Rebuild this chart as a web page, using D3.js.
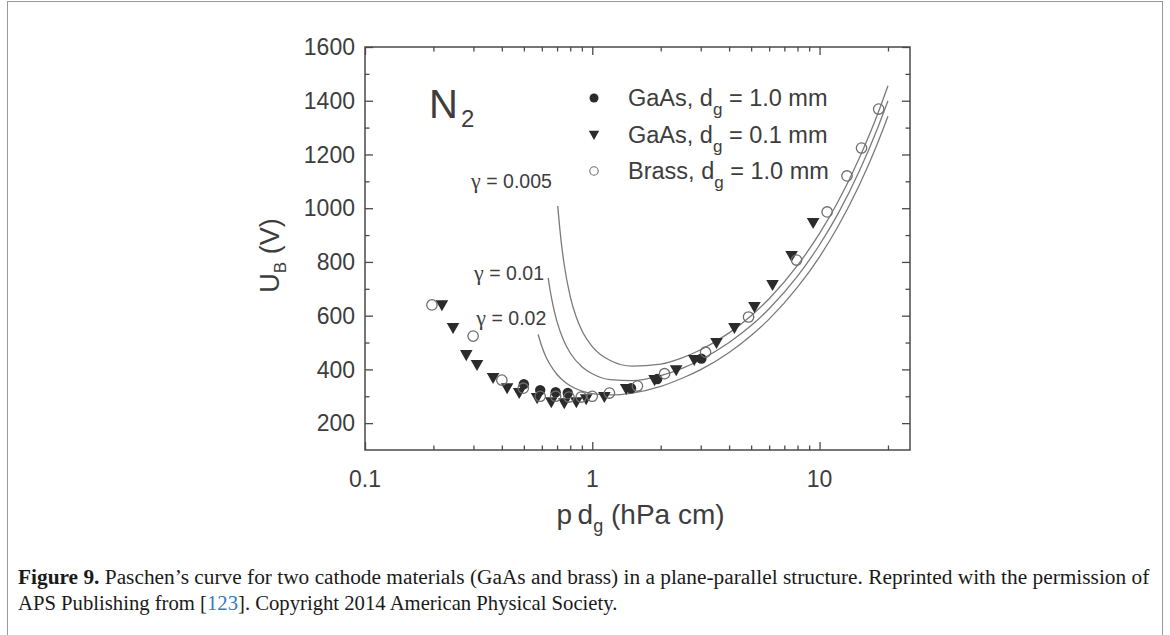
<!DOCTYPE html>
<html>
<head>
<meta charset="utf-8">
<script src="https://cdn.jsdelivr.net/npm/d3@7"></script>
<style>
  body { margin: 0; background: #fff; }
  svg { display: block; }
</style>
</head>
<body>
<svg id="chart" width="1170" height="635"></svg>
<script>
// Breakdown voltage measurements, N2
const gaas10PD = [0.50, 0.59, 0.69, 0.78, 1.48, 1.93, 3.02];
const gaas10U  = [345, 323, 315, 312, 330, 364, 440];

const gaas01PD = [0.218, 0.244, 0.279, 0.311, 0.366, 0.422, 0.477, 0.572, 0.66, 0.753, 0.851, 0.94, 1.13, 1.41, 1.88, 2.34, 2.81, 3.52, 4.22, 5.17, 6.21, 7.53, 9.37];
const gaas01U  = [639, 554, 453, 416, 368, 330, 312, 293, 278, 274, 278, 289, 297, 327, 360, 397, 435, 498, 554, 632, 714, 822, 945];

const brassPD = [0.197, 0.299, 0.40, 0.497, 0.59, 0.69, 0.79, 0.894, 1.0, 1.19, 1.58, 2.08, 3.15, 4.87, 7.92, 10.8, 13.2, 15.3, 18.2];
const brassU  = [640, 524, 360, 330, 300, 300, 297, 297, 300, 312, 338, 384, 464, 595, 807, 986, 1120, 1224, 1369];

// Paschen curves for three secondary emission coefficients
const curve005PD = [0.705, 0.71, 0.72, 0.73, 0.75, 0.8, 0.85, 0.9, 1.0, 1.2, 1.5, 2, 2.5, 3, 4, 5, 6, 8, 10, 12, 15, 18, 20];
const curve005U  = [1008, 977, 922, 874, 798, 671, 595, 545, 485, 433, 412, 420, 444, 473, 536, 600, 663, 787, 906, 1021, 1189, 1350, 1456];

const curve01PD = [0.64, 0.65, 0.67, 0.7, 0.75, 0.8, 0.9, 1.0, 1.2, 1.5, 2, 2.5, 3, 4, 5, 6, 8, 10, 12, 15, 18, 20];
const curve01U  = [741, 703, 643, 577, 506, 461, 410, 384, 362, 358, 377, 405, 436, 500, 563, 626, 747, 864, 976, 1140, 1298, 1400];

const curve02PD = [0.578, 0.6, 0.62, 0.65, 0.7, 0.75, 0.8, 0.9, 1.0, 1.2, 1.5, 2, 2.5, 3, 4, 5, 6, 8, 10, 12, 15, 18, 20];
const curve02U  = [530, 485, 454, 420, 381, 356, 339, 319, 310, 305, 312, 337, 368, 399, 463, 526, 587, 706, 819, 929, 1088, 1242, 1342];

const gammaLabels = ["0.005", "0.01", "0.02"];
const gammaLabelAt = [[0.293, 1075], [0.302, 733], [0.309, 565]];

const xMajorTicks = [0.1, 1, 10];
const xMinorTicks = [0.2, 0.3, 0.4, 0.5, 0.6, 0.7, 0.8, 0.9, 2, 3, 4, 5, 6, 7, 8, 9, 20];
const yMajorTicks = [200, 400, 600, 800, 1000, 1200, 1400, 1600];
const yMinorTicks = [300, 500, 700, 900, 1100, 1300, 1500];

const legendLabels = [["GaAs, d", "g", " = 1.0 mm"], ["GaAs, d", "g", " = 0.1 mm"], ["Brass, d", "g", " = 1.0 mm"]];

const svg = d3.select("#chart");
const SANS = "'Liberation Sans', Arial, Helvetica, sans-serif";
const SERIF = "'Liberation Serif', 'Times New Roman', serif";
const ink = "#3d3d3d";

// outer figure border
svg.append("rect").attr("x", 7.5).attr("y", 1.5).attr("width", 1155).attr("height", 700)
  .attr("fill", "none").attr("stroke", "#9a9a9a").attr("stroke-width", 1);

const plot = { left: 365, right: 910, top: 47, bottom: 450 };
const x = d3.scaleLog().domain([0.1, 25]).range([plot.left, plot.right]);
const y = d3.scaleLinear().domain([100, 1600]).range([plot.bottom, plot.top]);

const g = svg.append("g");

// ticks on all four sides, pointing inward
function tickAxis(axis, transform, values, size) {
  const a = g.append("g").attr("transform", transform)
    .call(axis.tickValues(values).tickSizeInner(-size).tickSizeOuter(0).tickFormat(""));
  a.select(".domain").remove();
  a.selectAll(".tick line").attr("stroke", "#4a4a4a").attr("stroke-width", 1.3);
  return a;
}
tickAxis(d3.axisBottom(x), `translate(0,${plot.bottom})`, xMajorTicks, 8);
tickAxis(d3.axisBottom(x), `translate(0,${plot.bottom})`, xMinorTicks, 4.5);
tickAxis(d3.axisTop(x), `translate(0,${plot.top})`, xMajorTicks, 8);
tickAxis(d3.axisTop(x), `translate(0,${plot.top})`, xMinorTicks, 4.5);
tickAxis(d3.axisLeft(y), `translate(${plot.left},0)`, yMajorTicks, 8);
tickAxis(d3.axisLeft(y), `translate(${plot.left},0)`, yMinorTicks, 4.5);
tickAxis(d3.axisRight(y), `translate(${plot.right},0)`, yMajorTicks, 8);
tickAxis(d3.axisRight(y), `translate(${plot.right},0)`, yMinorTicks, 4.5);

// tick labels
const fmtX = d => d < 1 ? d3.format(".1f")(d) : d3.format("d")(d);
g.append("g").selectAll("text").data(xMajorTicks).join("text")
  .attr("x", d => x(d)).attr("y", plot.bottom + 37)
  .attr("text-anchor", "middle").attr("font-family", SANS).attr("font-size", 23)
  .attr("fill", ink).text(fmtX);
g.append("g").selectAll("text").data(yMajorTicks).join("text")
  .attr("x", plot.left - 10).attr("y", d => y(d)).attr("dy", "0.36em")
  .attr("text-anchor", "end").attr("font-family", SANS).attr("font-size", 23)
  .attr("fill", ink).text(d => d);

// frame
g.append("rect").attr("x", plot.left).attr("y", plot.top)
  .attr("width", plot.right - plot.left).attr("height", plot.bottom - plot.top)
  .attr("fill", "none").attr("stroke", "#4a4a4a").attr("stroke-width", 1.5);

// axis titles
const yTitle = g.append("text")
  .attr("transform", `translate(${plot.left - 86},${(plot.top + plot.bottom) / 2 + 7}) rotate(-90)`)
  .attr("text-anchor", "middle").attr("font-family", SANS).attr("font-size", 27).attr("fill", ink);
yTitle.append("tspan").text("U");
yTitle.append("tspan").attr("font-size", 17).attr("dy", 7).text("B");
yTitle.append("tspan").attr("dy", -7).text(" (V)");

const xTitle = g.append("text")
  .attr("x", (plot.left + plot.right) / 2 + 3).attr("y", plot.bottom + 74)
  .attr("text-anchor", "middle").attr("font-family", SANS).attr("font-size", 28).attr("fill", ink);
xTitle.append("tspan").text("p\u2009d");
xTitle.append("tspan").attr("font-size", 18).attr("dy", 8).text("g");
xTitle.append("tspan").attr("dy", -8).text(" (hPa cm)");

// Paschen curves
const line = d3.line().x(d => x(d[0])).y(d => y(d[1])).curve(d3.curveMonotoneX);
const curves = [[curve005PD, curve005U], [curve01PD, curve01U], [curve02PD, curve02U]];
g.append("g").selectAll("path").data(curves).join("path")
  .attr("d", c => line(d3.zip(c[0], c[1])))
  .attr("fill", "none").attr("stroke", "#7a7a7a").attr("stroke-width", 1.3);

// curve labels
const gl = g.append("g").selectAll("text").data(gammaLabels).join("text")
  .attr("x", (d, i) => x(gammaLabelAt[i][0])).attr("y", (d, i) => y(gammaLabelAt[i][1]))
  .attr("font-family", SANS).attr("font-size", 19.5).attr("fill", ink);
gl.append("tspan").attr("font-family", SERIF).attr("font-size", 22).text("\u03b3");
gl.append("tspan").text(d => " = " + d);

// markers
const trianglePath = (cx, cy, s) => `M${cx - s},${cy - s * 0.8}L${cx + s},${cy - s * 0.8}L${cx},${cy + s * 0.95}Z`;

g.append("g").selectAll("path").data(d3.zip(gaas01PD, gaas01U)).join("path")
  .attr("d", d => trianglePath(x(d[0]), y(d[1]), 6.3)).attr("fill", "#2b2b2b");
g.append("g").selectAll("circle").data(d3.zip(gaas10PD, gaas10U)).join("circle")
  .attr("cx", d => x(d[0])).attr("cy", d => y(d[1])).attr("r", 5.2).attr("fill", "#2b2b2b");
g.append("g").selectAll("circle").data(d3.zip(brassPD, brassU)).join("circle")
  .attr("cx", d => x(d[0])).attr("cy", d => y(d[1])).attr("r", 5.2)
  .attr("fill", "none").attr("stroke", "#6e6e6e").attr("stroke-width", 1.3);

// N2 label
const n2 = g.append("text").attr("x", 429).attr("y", 118)
  .attr("font-family", SANS).attr("font-size", 40).attr("fill", ink);
n2.append("tspan").text("N");
n2.append("tspan").attr("font-size", 24).attr("dy", 9).attr("dx", 3).text("2");

// legend
const legendX = 594, legendTextX = 628, legendY = [98, 135, 171];
g.append("circle").attr("cx", legendX).attr("cy", legendY[0]).attr("r", 4.5).attr("fill", "#2b2b2b");
g.append("path").attr("d", trianglePath(legendX, legendY[1], 5.2)).attr("fill", "#2b2b2b");
g.append("circle").attr("cx", legendX).attr("cy", legendY[2]).attr("r", 4.2)
  .attr("fill", "none").attr("stroke", "#6e6e6e").attr("stroke-width", 1.1);
legendLabels.forEach((parts, i) => {
  const t = g.append("text").attr("x", legendTextX).attr("y", legendY[i] + 8)
    .attr("font-family", SANS).attr("font-size", 23.5).attr("fill", ink);
  t.append("tspan").text(parts[0]);
  t.append("tspan").attr("font-size", 17).attr("dy", 9).text(parts[1]);
  t.append("tspan").attr("dy", -9).text(parts[2]);
});

// caption
function captionLine(yPos, width, build) {
  const t = svg.append("text").attr("x", 0).attr("y", 0)
    .attr("font-family", SERIF).attr("font-size", 20.5).attr("fill", "#1a1a1a");
  build(t);
  const w = t.node().getComputedTextLength();
  t.attr("transform", `translate(18,${yPos}) scale(${width / w},1)`);
}
captionLine(584, 1132, t => {
  t.append("tspan").attr("font-weight", "bold").text("Figure 9.");
  t.append("tspan").text(" Paschen\u2019s curve for two cathode materials (GaAs and brass) in a plane-parallel structure. Reprinted with the permission of");
});
captionLine(610, 600, t => {
  t.append("tspan").text("APS Publishing from [");
  t.append("tspan").attr("fill", "#2a7fc1").text("123");
  t.append("tspan").text("]. Copyright 2014 American Physical Society.");
});
</script>
</body>
</html>
